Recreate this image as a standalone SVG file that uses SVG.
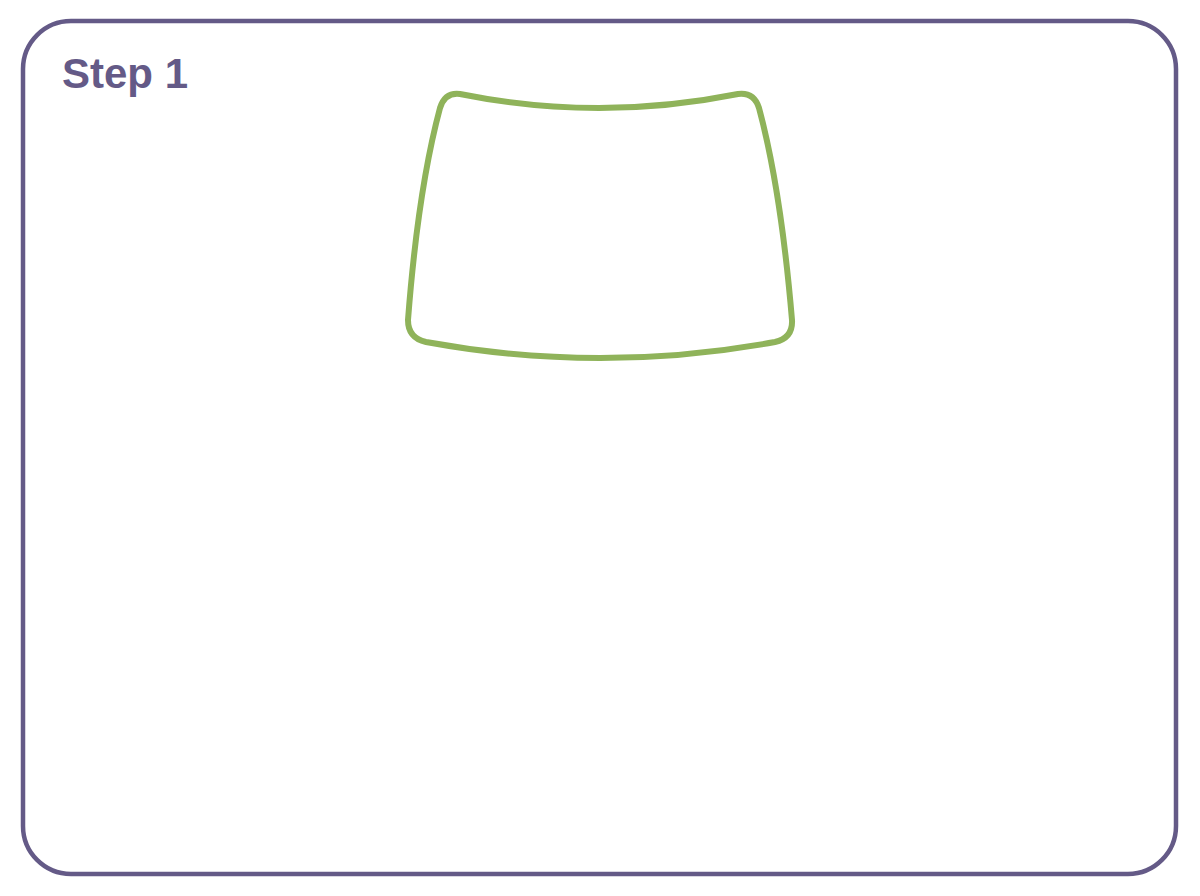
<svg xmlns="http://www.w3.org/2000/svg" width="1200" height="896" viewBox="0 0 1200 896">
  <style>
    .frame { fill: #ffffff; stroke: #645a87; stroke-width: 4.5; }
    .title { font-family: "Liberation Sans", Arial, sans-serif; font-weight: bold; font-size: 42px; fill: #645a87; }
    .shape { fill: none; stroke: #8fb35a; stroke-width: 6; stroke-linejoin: round; }
  </style>
  <rect x="0" y="0" width="1200" height="896" fill="#ffffff"/>
  <g id="frame">
    <rect class="frame" x="23" y="21" width="1153" height="853" rx="48" ry="48"/>
    <text class="title" x="62" y="88">Step 1</text>
  </g>
  <g id="windshield">
    <path class="shape" d="M 460,94 Q 599,122 738,94 Q 754,92 759,108 Q 781,190 792,320 Q 793,338 775,342 Q 600,374 426,342 Q 408,338 408,320 Q 418,190 440,108 Q 445,92 460,94 Z"/>
  </g>
  <g id="connectors"></g>
</svg>
